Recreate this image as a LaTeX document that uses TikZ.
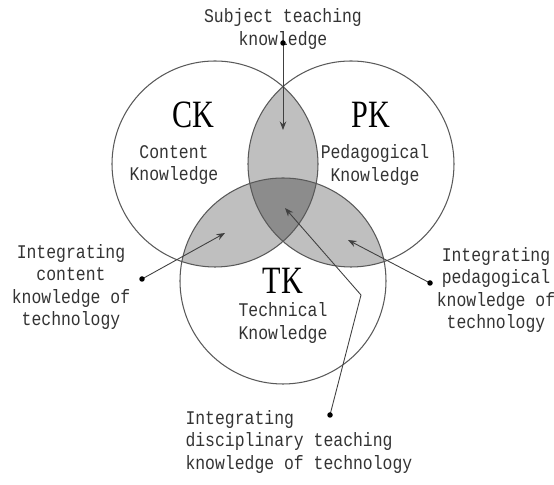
\documentclass[tikz,border=0pt]{standalone}
\usepackage{fontspec}
\newfontfamily\monof[FakeStretch=0.85]{Liberation Mono}
\newfontfamily\serf[FakeStretch=0.78]{Liberation Serif}
\usetikzlibrary{arrows.meta}

\begin{document}
\begin{tikzpicture}[>={Stealth[length=1.7mm, width=1.3mm]}, line width=0.6pt,
  txt/.style={font=\monof\fontsize{11}{12.6}\selectfont, text=black!80, align=center, inner sep=0pt},
  big/.style={font=\serf\fontsize{22}{24}\selectfont, inner sep=0pt},
  flecha/.style={->, draw=black!75, line width=0.5pt},
  punto/.style={fill=black}]
  \useasboundingbox (0,0) rectangle (11.08,9.70);
  % tres circulos
  \def\circk{(4.30,6.42) circle (2.06)}
  \def\cirpk{(7.02,6.42) circle (2.06)}
  \def\cirtk{(5.66,4.08) circle (2.06)}
  % intersecciones de dos
  \begin{scope} \clip \circk; \fill[black!25] \cirpk; \fill[black!25] \cirtk; \end{scope}
  \begin{scope} \clip \cirpk; \fill[black!25] \cirtk; \end{scope}
  % interseccion de los tres
  \begin{scope} \clip \circk; \clip \cirpk; \fill[black!45] \cirtk; \end{scope}
  \draw[black!65] \circk \cirpk \cirtk;
  % rotulos
  \node[big] (ck) at (3.86,7.40) {CK};
  \node[big] (pk) at (7.42,7.40) {PK};
  \node[big] (tk) at (5.66,4.08) {TK};
  \node[txt] (ckt) at (3.48,6.40) {Content\\Knowledge};
  \node[txt] (pkt) at (7.50,6.40) {Pedagogical\\Knowledge};
  \node[txt] (tkt) at (5.66,3.24) {Technical\\Knowledge};
  \node[txt] (sub) at (5.66,9.12) {Subject teaching\\knowledge};
  \node[txt] (izq) at (1.42,3.96) {Integrating\\content\\knowledge of\\technology};
  \node[txt] (der) at (9.92,3.90) {Integrating\\pedagogical\\knowledge of\\technology};
  \node[txt, align=left, anchor=west] (abj) at (3.70,0.86) {Integrating\\disciplinary teaching\\knowledge of technology};
  % flechas
  \coordinate (p1) at (5.66,8.84); \coordinate (f1) at (5.66,7.10);
  \coordinate (p2) at (2.84,4.12); \coordinate (f2) at (4.50,5.04);
  \coordinate (p3) at (8.60,4.04); \coordinate (f3) at (6.96,4.90);
  \coordinate (p4) at (6.60,1.40); \coordinate (q4) at (7.22,3.80); \coordinate (f4) at (5.70,5.54);
  \draw[flecha] (p1)--(f1); \draw[flecha] (p2)--(f2); \draw[flecha] (p3)--(f3);
  \draw[flecha] (p4)--(q4)--(f4);
  \foreach \p in {p1,p2,p3,p4} \fill[punto] (\p) circle (0.055);
\end{tikzpicture}
\end{document}
